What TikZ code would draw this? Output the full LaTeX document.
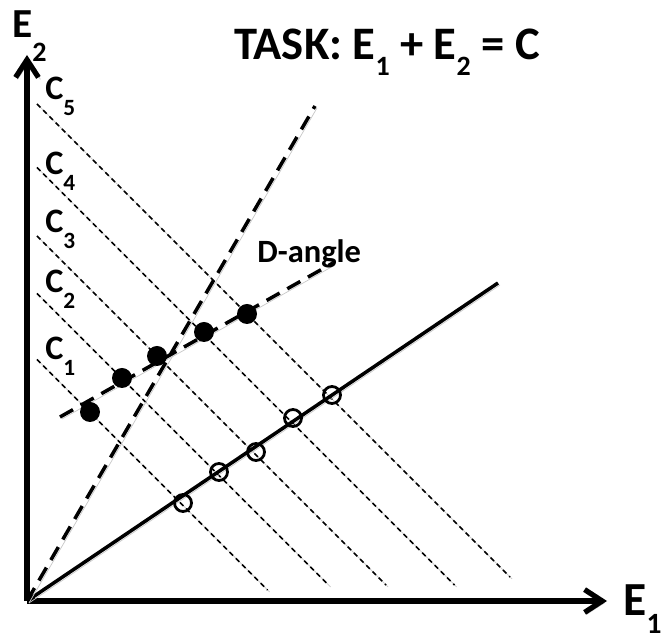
\documentclass[tikz,border=0pt]{standalone}
\usepackage{fontspec}
\usepackage{graphicx}
\setmainfont{Carlito}
\usetikzlibrary{arrows.meta, calc, positioning}
\newcommand{\lowsub}[3]{\raisebox{#2}{\scalebox{#1}{#3}}}
\tikzset{
  shadowed/.style={preaction={draw=black!22, transform canvas={shift={(0.04,-0.04)}}}},
  axisline/.style={shadowed, line width=3pt, -{Straight Barb[length=10pt,width=13pt,line width=3pt]}},
  mainline/.style={shadowed, line width=2pt},
  longdash/.style={shadowed, line width=2pt, dash pattern=on 8.5pt off 5pt},
  isoline/.style={shadowed, line width=0.9pt, dash pattern=on 2.8pt off 2.2pt},
  fulldot/.style={circle, fill=black, inner sep=0pt, minimum size=0.4cm},
  opendot/.style={circle, draw=black, line width=1.6pt, inner sep=0pt, minimum size=0.34cm},
  lab/.style={anchor=base west, inner sep=0pt, font=\bfseries}
}

\begin{document}
\begin{tikzpicture}[line join=round, line cap=butt]
    \useasboundingbox (-0.54,-0.8) rectangle (12.8,12.02);

    % Các điểm mốc
    \coordinate (O) at (0,0);
    \coordinate (E1end) at (11.6,0);
    \coordinate (E2end) at (0,10.92);
    \coordinate (solidend) at (9.42,6.36);
    \coordinate (steepend) at (5.76,9.9);
    \coordinate (Dstart) at (0.66,3.68);
    \coordinate (Dend) at (6.12,6.76);

    % Các đường C = const
    \foreach \c/\k/\ly/\ey in {5.03/1/4.82/0.22, 6.35/2/6.16/0.32, 7.5/3/7.36/0.32, 8.87/4/8.52/0.32, 10.14/5/10.02/0.48} {
        \coordinate (c\k s) at (0.2,{\c-0.2});
        \coordinate (c\k e) at ({\c-\ey},\ey);
        \draw[isoline] (c\k s) -- (c\k e);
        \node[lab, font=\fontsize{19.5}{21}\selectfont\bfseries] (C\k) at (0.36,\ly) {C\lowsub{0.68}{-0.46em}{\k}};
    }

    % Trục tọa độ
    \draw[axisline] (O) -- (E1end);
    \draw[axisline] (O) -- (E2end);
    \node[lab, font=\fontsize{27}{29}\selectfont\bfseries] (E1lab) at (11.92,-0.3) {E\lowsub{0.62}{-0.37em}{1}};
    \node[lab, font=\fontsize{23.5}{25}\selectfont\bfseries] (E2lab) at (-0.3,11.26) {E\lowsub{0.68}{-0.57em}{2}};

    % Tiêu đề
    \node[lab, font=\fontsize{26.5}{29}\selectfont\bfseries] (title) at (4.14,10.82)
        {TASK: E\lowsub{0.6}{-0.34em}{1} + E\lowsub{0.6}{-0.34em}{2} = C};

    % Các đường chính
    \draw[mainline] (O) -- (solidend);
    \draw[longdash] (O) -- (steepend);
    \draw[longdash] (Dstart) -- (Dend);
    \node[lab, font=\fontsize{18.5}{20}\selectfont\bfseries] (Dlab) at (4.6,6.76) {D-angle};

    % Các điểm dữ liệu
    \foreach \x/\y [count=\i] in {1.26/3.78, 1.90/4.46, 2.60/4.90, 3.54/5.38, 4.40/5.74}
        \node[fulldot] (f\i) at (\x,\y) {};
    \foreach \x/\y [count=\i] in {3.12/1.96, 3.84/2.58, 4.58/2.98, 5.32/3.66, 6.10/4.12}
        \node[opendot] (o\i) at (\x,\y) {};
\end{tikzpicture}
\end{document}
